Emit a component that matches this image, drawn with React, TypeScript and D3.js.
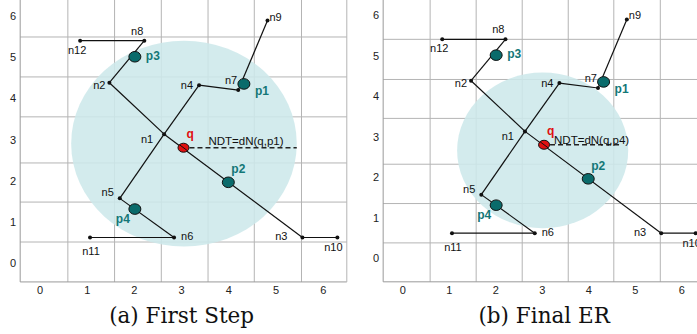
import * as d3 from 'd3';

// axis ticks shown on both panels
const tickValues = [0, 1, 2, 3, 4, 5, 6];

// road network nodes
const nodeNames = ['n1', 'n2', 'n3', 'n4', 'n5', 'n6', 'n7', 'n8', 'n9', 'n10', 'n11', 'n12'];
const nodeX = [2.63, 1.47, 5.56, 3.37, 1.69, 2.84, 4.2, 2.21, 4.82, 6.3, 1.06, 0.85];
const nodeY = [3.13, 4.38, 0.62, 4.32, 1.57, 0.62, 4.2, 5.4, 5.89, 0.62, 0.62, 5.4];

// network edges
const edges: [string, string][] = [
  ['n12', 'n8'], ['n8', 'n2'], ['n2', 'n1'], ['n1', 'n3'], ['n3', 'n10'],
  ['n4', 'n1'], ['n1', 'n5'], ['n5', 'n6'], ['n6', 'n11'], ['n4', 'n7'], ['n7', 'n9'],
];

// data points and query
const pointNames = ['p1', 'p2', 'p3', 'p4'];
const pointX = [4.32, 3.99, 2.01, 2.01];
const pointY = [4.35, 1.96, 5.01, 1.31];
const queryX = 3.04;
const queryY = 2.8;

// search region per panel (a, b)
const erCx = [3.05, 3.01];
const erCy = [2.9, 2.66];
const erRx = [2.39, 1.84];
const erRy = [2.5, 1.92];
const ndtReach = [5.44, 4.67];
const ndtLabels = ['NDT=dN(q,p1)', 'NDT=dN(q,p4)'];
const captions = ['(a) First Step', '(b) Final ER'];

// grid lines per panel (scanned figure, not on integer values)
const gridX = [0.59, 1.58, 2.57, 3.56, 4.54, 5.54];
const gridYs = [
  [0.51, 1.48, 2.43, 3.55, 4.52, 5.49],
  [0.38, 1.35, 2.32, 3.45, 4.41, 5.4],
];

const panels = [
  { xr: [40, 323.2], yr: [263, 16], yMin: -0.46, xMax: 6.5, border: true, ndtDx: 25, ndtDy: -3 },
  { xr: [402.7, 681.7], yr: [258.3, 15], yMin: -0.58, xMax: 6.9, border: false, ndtDx: 10, ndtDy: -1 },
];

const labelPos: Record<string, [string, number, number]> = {
  n1: ['end', -11, 9], n2: ['end', -4, 6], n3: ['end', -15, 3], n4: ['end', -6, 4],
  n5: ['end', -6, -2], n6: ['start', 7, 3], n7: ['end', -1, -6], n8: ['end', -1, -6],
  n9: ['start', 2, 0], n10: ['middle', -4, 14], n11: ['middle', 1, 18], n12: ['middle', -3, 13],
  p1: ['start', 11, 11], p2: ['start', 3, -9], p3: ['start', 11, 3], p4: ['end', -5, 14],
};

const sans = 'Liberation Sans, Arial, sans-serif';
const teal = '#0a6b6b';

function Panel({ idx }: { idx: number }) {
  const p = panels[idx];
  const x = d3.scaleLinear().domain([0, 6]).range(p.xr);
  const y = d3.scaleLinear().domain([0, 6]).range(p.yr);
  const xMin = -0.42;
  const left = x(xMin);
  const bottom = y(p.yMin);
  const right = x(p.xMax);
  const idxOf = (n: string) => nodeNames.indexOf(n);
  const grid = '#b4b4b4';

  return (
    <g>
      {gridX.map((g, i) => (
        <line key={'gx' + i} x1={x(g)} x2={x(g)} y1={0} y2={bottom} stroke={grid} strokeWidth={1} />
      ))}
      {gridYs[idx].map((g, i) => (
        <line key={'gy' + i} x1={left} x2={right} y1={y(g)} y2={y(g)} stroke={grid} strokeWidth={1} />
      ))}
      <line x1={left} x2={left} y1={0} y2={bottom} stroke="#999" strokeWidth={1} />
      <line x1={left} x2={right} y1={bottom} y2={bottom} stroke="#999" strokeWidth={1} />
      {p.border && <line x1={right} x2={right} y1={0} y2={bottom} stroke={grid} strokeWidth={1} />}

      <ellipse
        cx={x(erCx[idx])}
        cy={y(erCy[idx])}
        rx={x(erCx[idx] + erRx[idx]) - x(erCx[idx])}
        ry={y(erCy[idx]) - y(erCy[idx] + erRy[idx])}
        fill="#cde8eb"
        fillOpacity={0.88}
      />

      {tickValues.map((t) => (
        <text key={'tx' + t} x={x(t)} y={bottom + 12} textAnchor="middle" fontFamily={sans} fontSize={11} fill="#222">
          {t}
        </text>
      ))}
      {tickValues.map((t) => (
        <text key={'ty' + t} x={left - 4} y={y(t) + 4} textAnchor="end" fontFamily={sans} fontSize={11} fill="#222">
          {t}
        </text>
      ))}

      <line
        x1={x(queryX) + 6}
        x2={x(ndtReach[idx])}
        y1={y(queryY)}
        y2={y(queryY)}
        stroke="#222"
        strokeWidth={1.3}
        strokeDasharray="5,3"
      />

      {edges.map(([a, b], i) => (
        <line
          key={'e' + i}
          x1={x(nodeX[idxOf(a)])}
          y1={y(nodeY[idxOf(a)])}
          x2={x(nodeX[idxOf(b)])}
          y2={y(nodeY[idxOf(b)])}
          stroke="#111"
          strokeWidth={1.2}
        />
      ))}
      {nodeNames.map((n, i) => {
        const [anchor, dx, dy] = labelPos[n];
        return (
          <g key={n}>
            <circle cx={x(nodeX[i])} cy={y(nodeY[i])} r={2} fill="#111" />
            <text x={x(nodeX[i]) + dx} y={y(nodeY[i]) + dy} textAnchor={anchor} fontFamily={sans} fontSize={11} fill="#111">
              {n}
            </text>
          </g>
        );
      })}

      {pointNames.map((n, i) => {
        const [anchor, dx, dy] = labelPos[n];
        return (
          <g key={n}>
            <ellipse cx={x(pointX[i])} cy={y(pointY[i])} rx={6} ry={5.3} fill={teal} stroke="#111" strokeWidth={1} />
            <text
              x={x(pointX[i]) + dx}
              y={y(pointY[i]) + dy}
              textAnchor={anchor}
              fontFamily={sans}
              fontSize={12}
              fontWeight="bold"
              fill="#137777"
            >
              {n}
            </text>
          </g>
        );
      })}

      <ellipse cx={x(queryX)} cy={y(queryY)} rx={5.5} ry={4.5} fill="#e01010" stroke="#111" strokeWidth={1} />
      <line x1={x(queryX) - 4} y1={y(queryY) - 3} x2={x(queryX) + 4} y2={y(queryY) + 3} stroke="#111" strokeWidth={1} />
      <text x={x(queryX) + 3} y={y(queryY) - 10} fontFamily={sans} fontSize={12} fontWeight="bold" fill="#e01010">
        q
      </text>
      <text x={x(queryX) + p.ndtDx} y={y(queryY) + p.ndtDy} fontFamily={sans} fontSize={11.5} fill="#111">
        {ndtLabels[idx]}
      </text>

      <text
        x={(p.xr[0] + p.xr[1]) / 2 + (idx === 0 ? 0 : 2)}
        y={323}
        textAnchor="middle"
        fontFamily="DejaVu Serif, serif"
        fontSize={21.5}
        fill="#111"
      >
        {captions[idx]}
      </text>
    </g>
  );
}

export default function App() {
  return (
    <svg
      width={697}
      height={334}
      style={{ position: 'absolute', left: 0, top: 0, background: '#fff' }}
    >
      <rect width={697} height={334} fill="#fff" />
      <Panel idx={0} />
      <Panel idx={1} />
    </svg>
  );
}
